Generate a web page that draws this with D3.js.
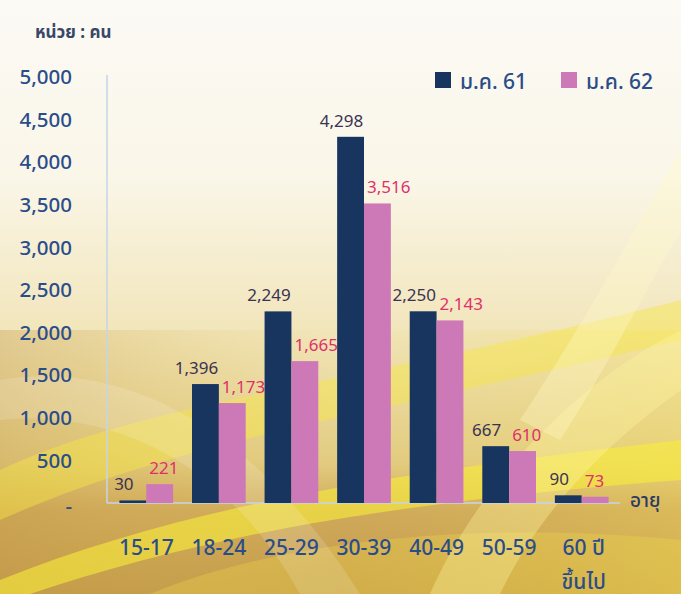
<!DOCTYPE html>
<html><head><meta charset="utf-8">
<script src="https://cdn.jsdelivr.net/npm/d3@7/dist/d3.min.js"></script>
<style>
html,body{margin:0;padding:0;background:#fff;}
svg{display:block;}
text{font-family:"Noto Sans","Noto Sans Thai","Tahoma","DejaVu Sans",sans-serif;}
</style></head>
<body>
<svg id="chart" width="681" height="594"></svg>
<script>
const categories = ["15-17","18-24","25-29","30-39","40-49","50-59","60 ปี|ขึ้นไป"];
const seriesNames = ["ม.ค. 61","ม.ค. 62"];
const values61 = [30,1396,2249,4298,2250,667,90];
const values62 = [221,1173,1665,3516,2143,610,73];
const yTicks = [0,500,1000,1500,2000,2500,3000,3500,4000,4500,5000];
const colors = ["#17355f","#cd79b7"];
const labelColors = ["#3b3352","#e0306c"];
const textBlue = "#2a4d8a";

const W=681,H=594;
const svg=d3.select("#chart");
const defs=svg.append("defs");

// background
const bg=defs.append("linearGradient").attr("id","bg").attr("x1",0).attr("y1",0).attr("x2",0).attr("y2",1);
[["0","#fbfaf5"],["0.3","#faf6e8"],["0.55","#f2e6bc"],["0.78","#e2cb80"],["0.86","#cfa95a"],["1","#c39a4a"]]
 .forEach(s=>bg.append("stop").attr("offset",s[0]).attr("stop-color",s[1]));
svg.append("rect").attr("width",W).attr("height",H).attr("fill","url(#bg)");

const bgL=defs.append("linearGradient").attr("id","bgL").attr("x1",0).attr("y1",0).attr("x2",1).attr("y2",0);
bgL.append("stop").attr("offset","0").attr("stop-color","#c49a48").attr("stop-opacity",0.35);
bgL.append("stop").attr("offset","0.5").attr("stop-color","#e6cd5a").attr("stop-opacity",0.0);
bgL.append("stop").attr("offset","1").attr("stop-color","#f5e15a").attr("stop-opacity",0.3);
svg.append("rect").attr("y",330).attr("width",W).attr("height",H-330).attr("fill","url(#bgL)");

// decorative swooshes
const sw=[
 {d:"M0,470 C150,400 330,390 681,300 L681,340 C350,420 180,440 0,520 Z",c:"#f6e645",o:0.45},
 {d:"M0,580 C200,500 420,470 681,440 L681,480 C420,500 220,530 30,594 L0,594 Z",c:"#f8ec3a",o:0.6},
 {d:"M150,594 C280,540 480,520 681,540 L681,594 Z",c:"#f3dc4a",o:0.3},
 {d:"M430,594 C480,480 580,380 681,330 L681,390 C610,440 540,510 500,594 Z",c:"#fff6a0",o:0.35},
 {d:"M520,420 C580,330 640,220 681,150 L681,230 C640,300 600,380 560,440 Z",c:"#fff9c8",o:0.35},
 {d:"M0,380 C120,360 250,420 360,594 L300,594 C220,450 100,410 0,420 Z",c:"#ffffff",o:0.15}
];
svg.selectAll("path.sw").data(sw).join("path").attr("class","sw")
  .attr("d",d=>d.d).attr("fill",d=>d.c).attr("opacity",d=>d.o);

const x0=d3.scaleBand().domain(categories).range([110,618]).paddingInner(0.26).paddingOuter(0.13);
const x1=d3.scaleBand().domain([0,1]).range([0,x0.bandwidth()]);
const y=d3.scaleLinear().domain([0,5000]).range([503,77]);

// axis lines
svg.append("line").attr("x1",107).attr("x2",107).attr("y1",75).attr("y2",503)
  .attr("stroke","#c5d5ea").attr("stroke-width",1.5);
svg.append("line").attr("x1",107).attr("x2",620).attr("y1",503).attr("y2",503)
  .attr("stroke","#c5d5ea").attr("stroke-width",1.5);

// y ticks
svg.append("g").selectAll("text").data(yTicks).join("text")
  .attr("x",72).attr("y",d=>y(d)+(d===0?3:0)).attr("dy","0.35em")
  .attr("text-anchor","end").attr("font-size",20.5).attr("font-weight",500)
  .attr("fill",textBlue)
  .text(d=>d===0?"-":d3.format(",")(d));

// bars
const data=categories.map((c,i)=>({c,v:[values61[i],values62[i]]}));
const g=svg.append("g");
data.forEach(d=>{
  d.v.forEach((v,s)=>{
    const bx=x0(d.c)+x1(s);
    g.append("rect").attr("x",bx).attr("y",y(v)).attr("width",x1.bandwidth()).attr("height",y(0)-y(v))
      .attr("fill",colors[s]);
    g.append("text")
      .attr("x",s===0?bx+x1.bandwidth()/2-9:bx+3)
      .attr("y",y(v)-10)
      .attr("text-anchor",s===0?"middle":"start").attr("font-size",17).attr("fill",labelColors[s])
      .text(d3.format(",")(v));
  });
});

// x labels
data.forEach(d=>{
  const parts=d.c.split("|");
  const cx=x0(d.c)+x0.bandwidth()/2;
  parts.forEach((p,k)=>{
    svg.append("text").attr("x",cx+(parts.length>1?2:0)).attr("y",555+k*34)
      .attr("text-anchor","middle").attr("font-size",21).attr("font-weight",500)
      .attr("fill",textBlue).text(p);
  });
});

// axis title
svg.append("text").attr("x",630).attr("y",507).attr("font-size",19).attr("font-weight",500)
  .attr("fill","#2b3a66").text("อายุ");
svg.append("text").attr("x",35).attr("y",38).attr("font-size",17).attr("font-weight","bold")
  .attr("fill","#3a4766").text("หน่วย : คน");

// legend
const leg=[{x:435,t:seriesNames[0],c:colors[0]},{x:561,t:seriesNames[1],c:colors[1]}];
leg.forEach((l,i)=>{
  svg.append("rect").attr("x",l.x).attr("y",72).attr("width",16).attr("height",16).attr("fill",l.c);
  svg.append("text").attr("x",l.x+25).attr("y",89).attr("font-size",21).attr("font-weight",500)
    .attr("fill",textBlue).text(l.t);
});
</script>
</body></html>
